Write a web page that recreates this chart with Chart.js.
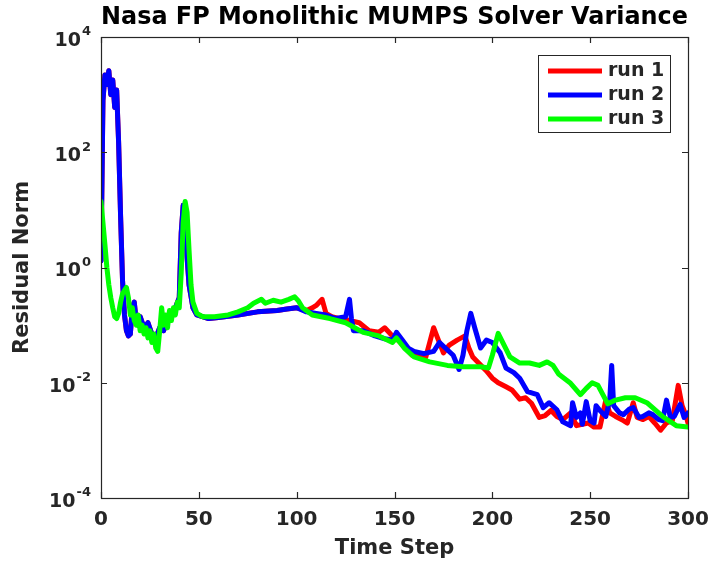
<!DOCTYPE html>
<html>
<head>
<meta charset="utf-8">
<title>Nasa FP Monolithic MUMPS Solver Variance</title>
<script src="https://cdn.jsdelivr.net/npm/chart.js@4.4.0/dist/chart.umd.min.js"></script>
<style>
  html, body { margin: 0; padding: 0; background: #ffffff; }
  #c { display: block; }
</style>
</head>
<body>
<canvas id="c" width="709" height="563"></canvas>
<script>
// Residual norm per time step for three runs of the monolithic MUMPS solver.
const steps2 = [0, 1, 2, 3, 4, 5, 6, 7, 8, 9, 10, 11, 12, 13, 14, 15, 16, 17, 18, 19, 20, 22, 24, 26, 28, 30, 32, 34, 36, 38, 40, 41, 42, 43, 44, 45, 47, 49, 55, 60, 70, 80, 90, 95, 100, 105, 110, 115, 120, 125, 127, 128, 129, 134, 140, 145, 149, 151, 154, 157, 160, 165, 170, 173, 176, 180, 183, 185, 187, 189, 191, 194, 197, 200, 204, 207, 211, 214, 218, 223, 226, 229, 233, 236, 240, 241, 243, 245, 246, 248, 250, 252, 253, 255, 258, 260, 261, 262, 265, 267, 270, 272, 275, 277, 280, 282, 285, 287, 289, 291, 293, 296, 298, 300];
const run2 = [1.3, 800, 2200, 1500, 2600, 1000, 1800, 600, 1200, 150, 8, 0.6, 0.15, 0.08, 0.065, 0.07, 0.2, 0.25, 0.12, 0.1, 0.14, 0.09, 0.11, 0.07, 0.06, 0.09, 0.08, 0.12, 0.15, 0.2, 0.3, 4, 12, 8, 1.5, 0.5, 0.2, 0.15, 0.13, 0.135, 0.15, 0.17, 0.18, 0.19, 0.2, 0.17, 0.16, 0.15, 0.13, 0.14, 0.28, 0.13, 0.08, 0.08, 0.065, 0.058, 0.055, 0.075, 0.055, 0.04, 0.035, 0.032, 0.035, 0.05, 0.04, 0.03, 0.017, 0.03, 0.08, 0.16, 0.09, 0.04, 0.055, 0.05, 0.033, 0.018, 0.015, 0.012, 0.007, 0.0062, 0.0037, 0.0045, 0.0034, 0.0021, 0.0018, 0.0045, 0.0025, 0.003, 0.0019, 0.0047, 0.0022, 0.002, 0.004, 0.0033, 0.0026, 0.005, 0.02, 0.004, 0.003, 0.0028, 0.0035, 0.0037, 0.0025, 0.0026, 0.003, 0.0028, 0.0023, 0.0022, 0.005, 0.0025, 0.0026, 0.0042, 0.0025, 0.003];

const steps1 = [0, 1, 2, 3, 4, 5, 6, 7, 8, 9, 10, 11, 12, 13, 14, 15, 16, 17, 18, 19, 20, 22, 24, 26, 28, 30, 32, 34, 36, 38, 40, 41, 42, 43, 44, 45, 47, 49, 55, 60, 70, 80, 90, 95, 100, 105, 108, 110, 113, 115, 118, 122, 127, 132, 137, 142, 145, 148, 153, 159, 166, 168, 170, 172, 175, 178, 182, 186, 188, 190, 193, 197, 200, 203, 207, 210, 214, 217, 220, 224, 227, 230, 233, 236, 240, 243, 249, 252, 255, 258, 260, 263, 267, 269, 272, 274, 277, 280, 283, 286, 289, 292, 295, 297, 299, 300];
const run1 = [1.3, 800, 2200, 1500, 2600, 1000, 1800, 600, 1200, 150, 8, 0.6, 0.15, 0.08, 0.065, 0.07, 0.2, 0.25, 0.12, 0.1, 0.14, 0.09, 0.11, 0.07, 0.06, 0.09, 0.08, 0.12, 0.15, 0.2, 0.3, 4, 12, 8, 1.5, 0.5, 0.2, 0.15, 0.13, 0.135, 0.15, 0.17, 0.18, 0.19, 0.2, 0.18, 0.2, 0.22, 0.28, 0.16, 0.14, 0.13, 0.12, 0.11, 0.08, 0.075, 0.09, 0.07, 0.05, 0.03, 0.028, 0.05, 0.09, 0.06, 0.033, 0.045, 0.055, 0.065, 0.04, 0.028, 0.022, 0.016, 0.012, 0.01, 0.0085, 0.0075, 0.0052, 0.0055, 0.0044, 0.0025, 0.0027, 0.0033, 0.0026, 0.0023, 0.003, 0.0018, 0.002, 0.0017, 0.0017, 0.005, 0.003, 0.0026, 0.0022, 0.002, 0.0045, 0.0025, 0.0023, 0.0026, 0.002, 0.0015, 0.002, 0.0022, 0.009, 0.004, 0.0027, 0.002];

const steps3 = [0, 1, 2, 3, 4, 5, 6, 7, 8, 9, 10, 11, 12, 13, 14, 15, 16, 17, 18, 19, 20, 21, 22, 23, 24, 25, 26, 27, 28, 29, 30, 31, 32, 33, 34, 35, 36, 37, 38, 39, 40, 41, 42, 43, 44, 45, 46, 47, 49, 52, 58, 65, 70, 75, 78, 82, 84, 88, 92, 96, 99, 101, 103, 108, 117, 125, 134, 142, 149, 151, 155, 160, 168, 177, 185, 194, 198, 200, 203, 206, 209, 214, 219, 224, 228, 231, 234, 240, 245, 248, 251, 254, 259, 263, 268, 273, 279, 287, 294, 300];
const run3 = [14, 6, 2.5, 1, 0.5, 0.3, 0.2, 0.14, 0.13, 0.16, 0.25, 0.35, 0.4, 0.45, 0.3, 0.15, 0.2, 0.12, 0.1, 0.15, 0.08, 0.1, 0.07, 0.09, 0.06, 0.08, 0.05, 0.07, 0.04, 0.035, 0.08, 0.2, 0.1, 0.15, 0.09, 0.18, 0.12, 0.2, 0.15, 0.25, 0.2, 0.8, 6, 14, 9, 2, 0.5, 0.25, 0.16, 0.14, 0.14, 0.15, 0.17, 0.2, 0.24, 0.28, 0.24, 0.27, 0.25, 0.28, 0.31, 0.26, 0.2, 0.15, 0.13, 0.11, 0.075, 0.065, 0.05, 0.06, 0.04, 0.028, 0.023, 0.02, 0.019, 0.019, 0.018, 0.03, 0.072, 0.045, 0.028, 0.022, 0.022, 0.02, 0.023, 0.02, 0.014, 0.0098, 0.0062, 0.008, 0.01, 0.009, 0.0043, 0.005, 0.0055, 0.0055, 0.0045, 0.0026, 0.0018, 0.0017];

const seriesLabels = ['run 1', 'run 2', 'run 3'];
const xTicks = [0, 50, 100, 150, 200, 250, 300];
const yExponents = [-4, -2, 0, 2, 4];

const FONT = "'DejaVu Sans', 'Liberation Sans', sans-serif";
const AXIS_COLOR = '#262626';

const toPoints = (xs, ys) => xs.map((x, i) => ({ x: x, y: ys[i] }));

// Box around the axes, inward tick marks, power-of-ten labels and the legend.
const axesFrame = {
  id: 'axesFrame',
  afterDatasetsDraw(chart) {
    const { ctx, chartArea: a, scales: { x, y } } = chart;
    ctx.save();
    ctx.strokeStyle = AXIS_COLOR;
    ctx.lineWidth = 1.2;
    ctx.strokeRect(Math.round(a.left) + 0.5, Math.round(a.top) + 0.5,
                   Math.round(a.right - a.left), Math.round(a.bottom - a.top));
    const tl = 6;
    ctx.beginPath();
    x.ticks.forEach(t => {
      const px = Math.round(x.getPixelForValue(t.value)) + 0.5;
      ctx.moveTo(px, a.bottom); ctx.lineTo(px, a.bottom - tl);
      ctx.moveTo(px, a.top); ctx.lineTo(px, a.top + tl);
    });
    y.ticks.forEach(t => {
      const py = Math.round(y.getPixelForValue(t.value)) + 0.5;
      ctx.moveTo(a.left, py); ctx.lineTo(a.left + tl, py);
      ctx.moveTo(a.right, py); ctx.lineTo(a.right - tl, py);
    });
    ctx.stroke();

    // y tick labels as 10 with a raised exponent
    ctx.fillStyle = AXIS_COLOR;
    ctx.textBaseline = 'middle';
    ctx.textAlign = 'left';
    const rightEdge = a.left - 10;
    y.ticks.forEach(t => {
      const e = Math.round(Math.log10(t.value));
      const py = y.getPixelForValue(t.value);
      const expText = String(e);
      ctx.font = 'bold 13px ' + FONT;
      const we = ctx.measureText(expText).width;
      ctx.font = 'bold 19px ' + FONT;
      const wb = ctx.measureText('10').width;
      ctx.fillText('10', rightEdge - we - wb - 1, py + 4);
      ctx.font = 'bold 13px ' + FONT;
      ctx.fillText(expText, rightEdge - we, py - 5);
    });
    ctx.restore();
  },
  afterDraw(chart) {
    const { ctx } = chart;
    const bx = 538, by = 55, bw = 132, bh = 77;
    ctx.save();
    ctx.fillStyle = '#ffffff';
    ctx.fillRect(bx, by, bw, bh);
    ctx.strokeStyle = AXIS_COLOR;
    ctx.lineWidth = 1;
    ctx.strokeRect(bx + 0.5, by + 0.5, bw, bh);
    ctx.font = 'bold 19px ' + FONT;
    ctx.textBaseline = 'middle';
    ctx.textAlign = 'left';
    chart.data.datasets.forEach((ds, i) => {
      const ry = by + 16 + i * 24;
      ctx.strokeStyle = ds.borderColor;
      ctx.lineWidth = 5;
      ctx.beginPath();
      ctx.moveTo(548, ry); ctx.lineTo(602, ry);
      ctx.stroke();
      ctx.fillStyle = AXIS_COLOR;
      ctx.fillText(ds.label, 608, ry);
    });
    ctx.restore();
  }
};

new Chart(document.getElementById('c'), {
  type: 'line',
  data: {
    datasets: [
      { label: seriesLabels[0], data: toPoints(steps1, run1), borderColor: '#ff0000', order: 3 },
      { label: seriesLabels[1], data: toPoints(steps2, run2), borderColor: '#0000ff', order: 2 },
      { label: seriesLabels[2], data: toPoints(steps3, run3), borderColor: '#00ff00', order: 1 }
    ]
  },
  options: {
    responsive: false,
    animation: false,
    events: [],
    elements: {
      line: { borderWidth: 5, tension: 0, fill: false, borderJoinStyle: 'round', borderCapStyle: 'round' },
      point: { radius: 0 }
    },
    layout: { padding: { left: 0, right: 21, top: 0, bottom: 0 } },
    plugins: {
      legend: { display: false },
      tooltip: { enabled: false },
      title: {
        display: true,
        fullSize: false,
        text: 'Nasa FP Monolithic MUMPS Solver Variance',
        color: '#000000',
        font: { family: FONT, size: 25, weight: 'bold' },
        padding: { top: 2, bottom: 5 }
      }
    },
    scales: {
      x: {
        type: 'linear',
        min: 0,
        max: 300,
        afterBuildTicks: s => { s.ticks = xTicks.map(v => ({ value: v })); },
        afterFit: s => { s.height = 65; s.paddingLeft = 0; s.paddingRight = 0; },
        grid: { display: false, drawTicks: false },
        border: { display: false },
        ticks: {
          color: AXIS_COLOR,
          padding: 10,
          maxRotation: 0,
          font: { family: FONT, size: 20, weight: 'bold' }
        },
        title: {
          display: true,
          text: 'Time Step',
          color: AXIS_COLOR,
          font: { family: FONT, size: 21, weight: 'bold' },
          padding: { top: 0, bottom: 2 }
        }
      },
      y: {
        type: 'logarithmic',
        min: 1e-4,
        max: 1e4,
        afterBuildTicks: s => { s.ticks = yExponents.map(e => ({ value: Math.pow(10, e) })); },
        afterFit: s => { s.width = 101; },
        grid: { display: false, drawTicks: false },
        border: { display: false },
        ticks: { display: false },
        title: {
          display: true,
          text: 'Residual Norm',
          color: AXIS_COLOR,
          font: { family: FONT, size: 21, weight: 'bold' },
          padding: { top: 10, bottom: 0 }
        }
      }
    }
  },
  plugins: [axesFrame]
});
</script>
</body>
</html>
